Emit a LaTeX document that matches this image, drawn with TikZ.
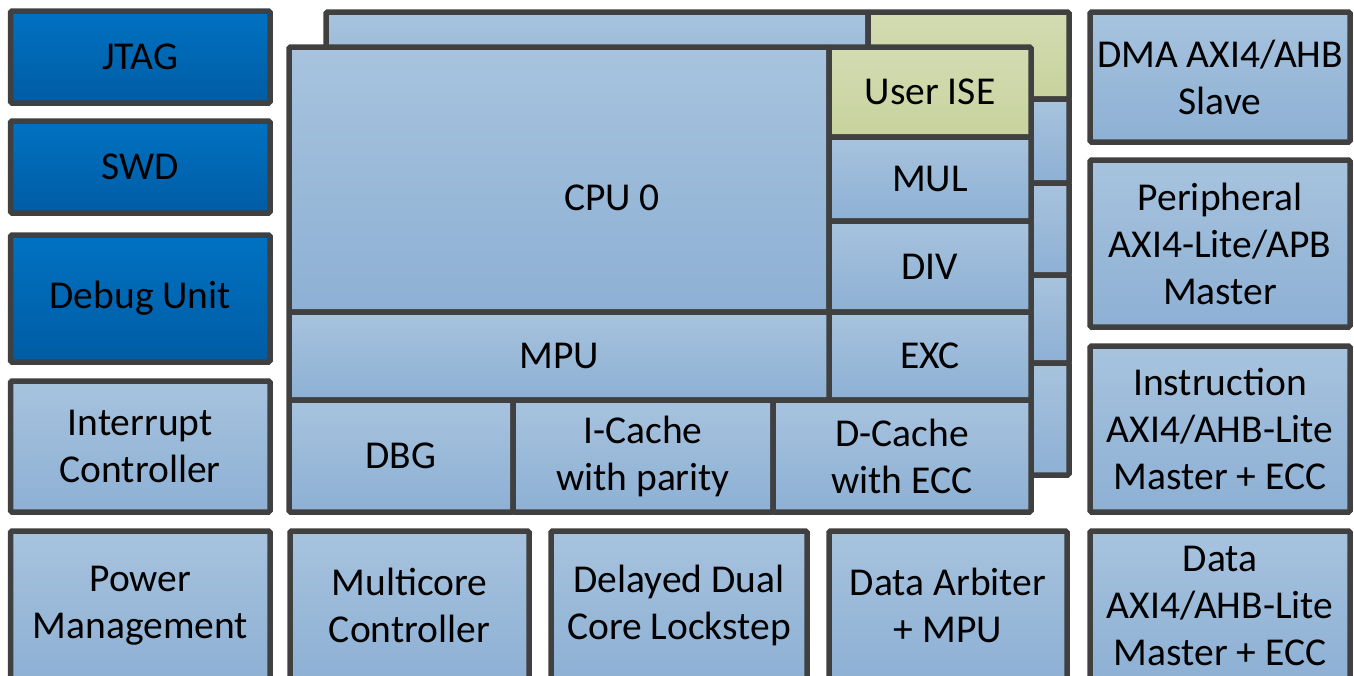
\documentclass[tikz,border=0pt]{standalone}
\usepackage{fontspec}
\setmainfont{Carlito}
\definecolor{bordc}{RGB}{64,64,64}
\definecolor{ltop}{RGB}{167,195,222}
\definecolor{lbot}{RGB}{141,176,212}
\definecolor{dtop}{RGB}{0,114,194}
\definecolor{dbot}{RGB}{0,92,164}
\definecolor{gtop}{RGB}{211,220,178}
\definecolor{gbot}{RGB}{199,210,158}
\tikzset{
  blkbase/.style={rectangle, draw=bordc, line width=5.5pt, rounded corners=1.5pt, inner sep=0pt, align=center, font=\fontsize{39.5}{47}\selectfont},
  lightblk/.style={blkbase, top color=ltop, bottom color=lbot},
  darkblk/.style={blkbase, top color=dtop, bottom color=dbot},
  greenblk/.style={blkbase, top color=gtop, bottom color=gbot},
  lbl/.style={inner sep=0pt, align=center, font=\fontsize{39.5}{47}\selectfont}
}
% \blk{name}{x1}{y1}{x2}{y2}{text}{style}
\newcommand\blk[7]{%
  \node[#7, minimum width={#4pt-#2pt}, minimum height={#5pt-#3pt}] (#1) at ({(#2+#4)/2},{(#3+#5)/2}) {#6};}
\begin{document}
\begin{tikzpicture}[x=1pt,y=-1pt]
\useasboundingbox (0,0) rectangle (1354,675);
\clip (0,0) rectangle (1354,675);
% left column
\blk{jtag}{10.5}{11}{270}{103}{JTAG}{darkblk}
\blk{swd}{10.5}{121}{270}{213}{SWD}{darkblk}
\blk{dbu}{10.5}{235}{270}{362}{Debug Unit}{darkblk}
\blk{irq}{10.5}{381}{270}{512}{Interrupt\\Controller}{lightblk}
% bottom row
\blk{pwr}{10.5}{531}{270}{680}{Power\\Management}{lightblk}
\blk{mcc}{290}{531}{529}{680}{Multicore\\Controller}{lightblk}
\blk{dcl}{551}{531}{807}{680}{Delayed Dual\\Core Lockstep}{lightblk}
\blk{dam}{829}{531}{1067}{680}{Data Arbiter\\+ MPU}{lightblk}
\blk{dax}{1090}{531}{1350}{680}{Data\\AXI4/AHB-Lite\\Master + ECC}{lightblk}
% right column
\blk{dma}{1090}{12}{1350}{142}{DMA AXI4/AHB\\Slave}{lightblk}
\blk{per}{1090}{160}{1350}{327}{Peripheral\\AXI4-Lite/APB\\Master}{lightblk}
\blk{ins}{1090}{346}{1350}{512}{Instruction\\AXI4/AHB-Lite\\Master + ECC}{lightblk}
% back CPU layer
\blk{bcpu}{326}{12}{868}{120}{}{lightblk}
\blk{bise}{868}{12}{1069}{99}{}{greenblk}
\blk{bs1}{1000}{99}{1069}{183}{}{lightblk}
\blk{bs2}{1000}{183}{1069}{275}{}{lightblk}
\blk{bs3}{1000}{275}{1069}{363}{}{lightblk}
\blk{bs4}{1000}{363}{1069}{475}{}{lightblk}
% front CPU layer
\blk{cpu}{289}{47}{829}{312}{}{lightblk}
\node[lbl] (cpulbl) at (612,198) {CPU 0};
\blk{ise}{829}{47}{1031}{137}{User ISE}{greenblk}
\blk{mul}{829}{137}{1031}{221}{MUL}{lightblk}
\blk{div}{829}{221}{1031}{312}{DIV}{lightblk}
\blk{exc}{829}{312}{1031}{400}{EXC}{lightblk}
\blk{mpu}{289}{312}{829}{400}{MPU}{lightblk}
\blk{dbg}{289}{400}{513}{512}{DBG}{lightblk}
\blk{ica}{513}{400}{773}{512}{I-Cache\\with parity}{lightblk}
\blk{dca}{773}{400}{1031}{512}{D-Cache\\with ECC}{lightblk}
\end{tikzpicture}
\end{document}
